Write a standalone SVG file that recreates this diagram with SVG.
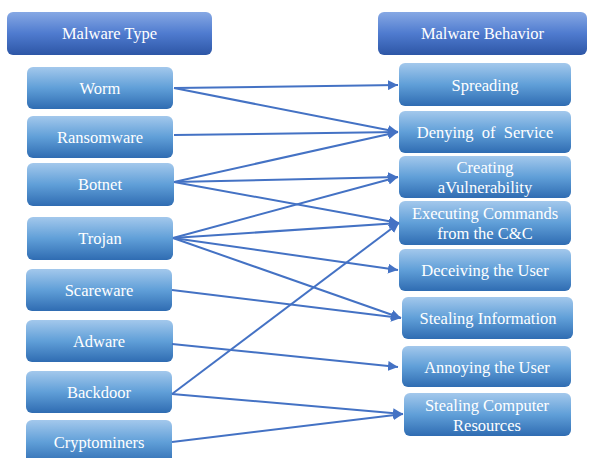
<svg xmlns="http://www.w3.org/2000/svg" width="590" height="458" viewBox="0 0 590 458">
<defs>
<linearGradient id="gh" x1="0" y1="0" x2="0" y2="1">
<stop offset="0" stop-color="#86A8E4"/>
<stop offset="0.5" stop-color="#4F7BCF"/>
<stop offset="1" stop-color="#2D56A6"/>
</linearGradient>
<linearGradient id="gn" x1="0" y1="0" x2="0" y2="1">
<stop offset="0" stop-color="#A3C8EC"/>
<stop offset="0.5" stop-color="#609FD8"/>
<stop offset="1" stop-color="#2F6CB2"/>
</linearGradient>
<marker id="ah" viewBox="0 0 10 10" refX="10" refY="5" markerWidth="5" markerHeight="5" orient="auto" markerUnits="strokeWidth">
<path d="M0,0 L10,5 L0,10 z" fill="#4472C4"/>
</marker>
<style>
.h rect{fill:url(#gh);}
.n rect{fill:url(#gn);}
.c line{stroke:#4472C4;stroke-width:2;marker-end:url(#ah);}
text{font-family:'Liberation Serif','Times New Roman','DejaVu Serif',serif;}
</style>
</defs>
<g font-size="16.5" fill="#FFFFFF" text-anchor="middle">
<g id="hdr-type" class="h"><rect x="7" y="12" width="205" height="43" rx="6"/><text x="109.5" y="39">Malware Type</text></g>
<g id="hdr-behavior" class="h"><rect x="378" y="12" width="209" height="43" rx="6"/><text x="482.5" y="39">Malware Behavior</text></g>

<g id="worm" class="n"><rect x="27" y="67" width="146" height="42" rx="6"/><text x="100" y="94">Worm</text></g>
<g id="ransomware" class="n"><rect x="27" y="116" width="146" height="42" rx="6"/><text x="100" y="143">Ransomware</text></g>
<g id="botnet" class="n"><rect x="27" y="163" width="147" height="43" rx="6"/><text x="100" y="190">Botnet</text></g>
<g id="trojan" class="n"><rect x="27" y="217" width="146" height="43" rx="6"/><text x="100" y="244">Trojan</text></g>
<g id="scareware" class="n"><rect x="26" y="269" width="146" height="42" rx="6"/><text x="99" y="296">Scareware</text></g>
<g id="adware" class="n"><rect x="26" y="320" width="147" height="42" rx="6"/><text x="99" y="347">Adware</text></g>
<g id="backdoor" class="n"><rect x="26" y="371" width="146" height="42" rx="6"/><text x="99" y="398">Backdoor</text></g>
<g id="cryptominers" class="n"><rect x="26" y="420" width="146" height="44" rx="6"/><text x="99" y="448">Cryptominers</text></g>

<g id="spreading" class="n"><rect x="399" y="63" width="172" height="43" rx="6"/><text x="485" y="91">Spreading</text></g>
<g id="denying" class="n"><rect x="399" y="111" width="172" height="42" rx="6"/><text x="485" y="138" xml:space="preserve">Denying  of  Service</text></g>
<g id="creating" class="n"><rect x="399" y="156" width="172" height="42" rx="6"/><text x="485" y="173">Creating</text><text x="485" y="193">aVulnerability</text></g>
<g id="executing" class="n"><rect x="399" y="201" width="172" height="44" rx="6"/><text x="485" y="219">Executing Commands</text><text x="485" y="239">from the C&amp;C</text></g>
<g id="deceiving" class="n"><rect x="399" y="249" width="172" height="42" rx="6"/><text x="485" y="276">Deceiving the User</text></g>
<g id="stealing-info" class="n"><rect x="402" y="297" width="171" height="42" rx="6"/><text x="488" y="324">Stealing Information</text></g>
<g id="annoying" class="n"><rect x="402" y="346" width="169" height="41" rx="6"/><text x="487" y="373">Annoying the User</text></g>
<g id="stealing-comp" class="n"><rect x="404" y="393" width="167" height="43" rx="6"/><text x="487" y="411">Stealing Computer</text><text x="487" y="431">Resources</text></g>
</g>
<g id="connectors" class="c">
<line x1="174" y1="88" x2="398" y2="85"/>
<line x1="174" y1="88" x2="398" y2="132"/>
<line x1="174" y1="135" x2="398" y2="132"/>
<line x1="174" y1="182" x2="398" y2="132"/>
<line x1="174" y1="182" x2="398" y2="177"/>
<line x1="174" y1="182" x2="399" y2="223"/>
<line x1="173" y1="238" x2="398" y2="177"/>
<line x1="173" y1="238" x2="399" y2="223"/>
<line x1="173" y1="238" x2="398" y2="270"/>
<line x1="173" y1="238" x2="401" y2="318"/>
<line x1="172" y1="290" x2="401" y2="318"/>
<line x1="172" y1="344" x2="398" y2="367"/>
<line x1="172" y1="394" x2="399" y2="223"/>
<line x1="172" y1="394" x2="403" y2="414"/>
<line x1="172" y1="442" x2="403" y2="414"/>
</g>
</svg>
